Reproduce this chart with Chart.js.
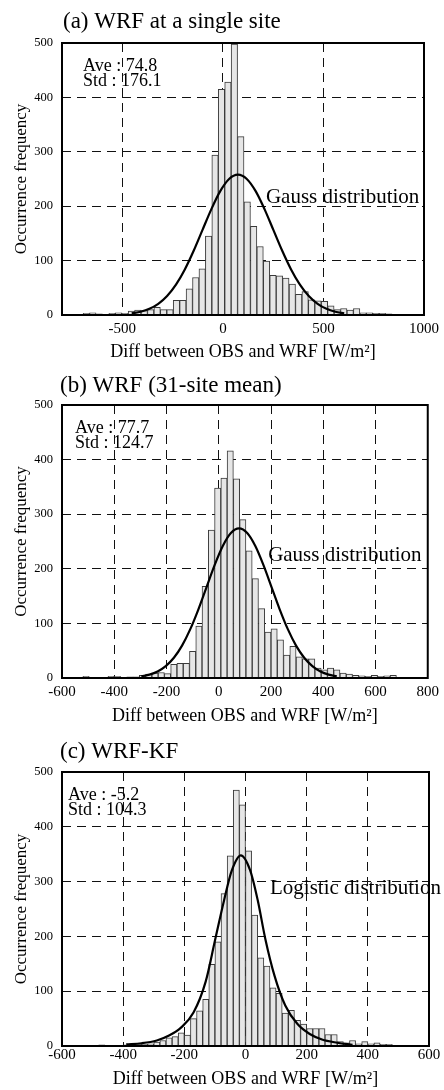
<!DOCTYPE html>
<html><head><meta charset="utf-8">
<script src="https://cdn.jsdelivr.net/npm/chart.js@4.4.1/dist/chart.umd.min.js"></script>
<style>
html,body{margin:0;padding:0;background:#fff;}
#wrap{position:relative;width:444px;height:1090px;overflow:hidden;background:#fff;}
canvas{position:absolute;left:0;}
</style></head><body>
<div id="wrap">
<canvas id="ca" width="444" height="365" style="top:0px"></canvas>
<canvas id="cb" width="444" height="365" style="top:365px"></canvas>
<canvas id="cc" width="444" height="360" style="top:730px"></canvas>
</div>
<script>
// ---------- DATA ----------
const yTicks = [0, 100, 200, 300, 400, 500];

// (a) WRF at a single site
const binsA = [-743,-711,-679,-647,-615,-583,-551,-519,-487,-455,-423,-391,-359,-327,-295,-263,-231,-199,-167,-135,-103,-71,-39,-7,25,57,89,121,153,185,217,249,281,313,345,377,409,441,473,505,537,569,601,633,665,697,729,761,793,825];
const countsA = [1,1,3,4,2,1,3,4,3,7,9,8,10,14,10,10,27,27,48,69,85,145,294,415,428,498,328,208,163,126,99,73,72,68,57,38,43,28,26,25,17,10,12,9,12,4,4,3,3,2];
const curveXA = [-453.5,-409.5,-365.4,-321.4,-277.4,-233.3,-189.3,-145.3,-101.3,-57.2,-13.2,30.8,74.8,118.8,162.9,206.9,250.9,295.0,339.0,383.0,427.0,471.1,515.1,559.1,603.1];
const curveYA = [2.9,5.9,11.3,20.5,34.9,55.8,83.8,118.1,156.5,194.7,227.7,250.1,258,250.1,227.7,194.7,156.5,118.1,83.8,55.8,34.9,20.5,11.3,5.9,2.9];
const xTicksA = [-500, 0, 500, 1000];

// (b) WRF (31-site mean)
const binsB = [-508,-484,-460,-436,-412,-388,-364,-340,-316,-292,-268,-244,-220,-196,-172,-148,-124,-100,-76,-52,-28,-4,20,44,68,92,116,140,164,188,212,236,260,284,308,332,356,380,404,428,452,476,500,524,548,572,596,620,644,668];
const countsB = [3,0,0,1,3,3,1,2,2,5,7,9,10,8,25,27,27,49,95,168,271,348,366,416,365,290,233,182,127,84,90,70,42,58,39,35,35,18,15,18,15,9,7,5,4,3,5,3,4,5];
const curveXB = [-296.4,-265.2,-234.1,-202.9,-171.7,-140.5,-109.4,-78.2,-47.0,-15.8,15.4,46.5,77.7,108.9,140.0,171.2,202.4,233.6,264.8,295.9,327.1,358.3,389.5,420.6,451.8];
const curveYB = [3.0,6.2,12.0,21.8,37.1,59.3,89.0,125.4,166.2,206.8,241.8,265.6,274,265.6,241.8,206.8,166.2,125.4,89.0,59.3,37.1,21.8,12.0,6.2,3.0];
const xTicksB = [-600, -400, -200, 0, 200, 400, 600, 800];

// (c) WRF-KF
const binsC = [-550,-530,-510,-490,-470,-450,-430,-410,-390,-370,-350,-330,-310,-290,-270,-250,-230,-210,-190,-170,-150,-130,-110,-90,-70,-50,-30,-10,10,30,50,70,90,110,130,150,170,190,210,230,250,270,290,310,330,350,370,390,410,430,450,470];
const countsC = [1,0,0,1,2,1,1,1,2,3,3,3,4,7,10,15,17,24,20,50,64,85,149,190,278,347,467,440,356,239,161,146,106,96,60,65,47,40,32,32,32,21,21,8,6,10,4,8,4,6,3,3];
const curveXC = [-390,-340,-290,-250,-210,-170,-130,-100,-70,-45,-15,15,40,65,95,130,170,210,250,300,350];
const curveYC = [3,5,10,19,34,61,118,192,266,320,348,321,266,195,128,74,40,22,12,6,2];
const xTicksC = [-600, -400, -200, 0, 200, 400, 600];

// ---------- RENDER ----------
const SERIF = "'Liberation Serif','Times New Roman',serif";
Chart.defaults.font.family = SERIF;
Chart.defaults.color = '#000';

const decor = {
  id: 'decor',
  afterDatasetsDraw(chart, args, o) {
    const {ctx, chartArea: a} = chart;
    ctx.save();
    ctx.setLineDash([]);
    ctx.strokeStyle = '#000';
    ctx.lineWidth = 2;
    ctx.strokeRect(a.left, a.top, a.right - a.left, a.bottom - a.top);
    ctx.restore();
  },
  afterDraw(chart, args, o) {
    const {ctx, chartArea: a, scales} = chart;
    ctx.save();
    ctx.fillStyle = '#000';
    ctx.textAlign = 'left';
    ctx.textBaseline = 'alphabetic';
    ctx.font = '23px ' + SERIF;
    ctx.fillText(o.title, a.left + o.titleDx, o.titleY);
    ctx.font = '18px ' + SERIF;
    ctx.fillText(o.ave, a.left + o.statsDx, a.top + 28);
    ctx.fillText(o.std, a.left + o.statsDx, a.top + 43);
    ctx.font = '21px ' + SERIF;
    ctx.fillText(o.label, scales.x.getPixelForValue(o.labelX), scales.y.getPixelForValue(o.labelY));
    ctx.restore();
  }
};

function panel(id, p) {
  const gridOpts = {color: '#111', lineWidth: 1, drawTicks: false, offset: false};
  const borderOpts = {display: false, dash: [9, 6]};
  new Chart(document.getElementById(id), {
    data: {
      datasets: [
        {
          type: 'line', order: 0,
          data: p.cx.map((v, i) => ({x: v, y: p.cy[i]})),
          borderColor: '#000', borderWidth: 2.2, pointRadius: 0,
          cubicInterpolationMode: 'monotone', fill: false
        },
        {
          type: 'bar', order: 1,
          data: p.bins.map((v, i) => ({x: v, y: p.counts[i]})),
          backgroundColor: '#e6e6e6', borderColor: '#3a3a3a', borderWidth: 1,
          barPercentage: 1, categoryPercentage: 1
        }
      ]
    },
    options: {
      responsive: false, animation: false, devicePixelRatio: 1,
      layout: {padding: {top: p.padTop, right: p.padRight, left: 0, bottom: 0}},
      plugins: {
        legend: {display: false}, tooltip: {enabled: false},
        decor: p.decor
      },
      scales: {
        x: {
          type: 'linear', min: p.xMin, max: p.xMax, offset: false,
          afterBuildTicks: s => { s.ticks = p.xTicks.map(v => ({value: v})); },
          afterFit: s => { s.height = p.H - p.plotBottom; },
          grid: gridOpts, border: borderOpts,
          ticks: {padding: p.xTickPad, font: {size: 15}, color: '#000', maxRotation: 0, autoSkip: false,
                  callback: v => String(v)},
          title: {display: true, text: 'Diff between OBS and WRF [W/m\u00B2]', font: {size: 18}, color: '#000',
                  padding: {top: 0, bottom: p.xTitlePad}}
        },
        y: {
          type: 'linear', min: 0, max: 500,
          afterBuildTicks: s => { s.ticks = yTicks.map(v => ({value: v})); },
          afterFit: s => { s.width = 62; },
          grid: gridOpts, border: borderOpts,
          ticks: {padding: 9, font: {size: 12.5}, color: '#000', callback: v => String(v)},
          title: {display: true, text: 'Occurrence frequency', font: {size: 17}, color: '#000',
                  padding: {top: 11, bottom: 0}}
        }
      }
    },
    plugins: [decor]
  });
}

panel('ca', {
  H: 365, padTop: 43, padRight: 15, plotBottom: 315, xMin: -800, xMax: 1000, xTicks: xTicksA,
  xTickPad: 5, xTitlePad: 2, bins: binsA, counts: countsA, cx: curveXA, cy: curveYA,
  decor: {title: '(a) WRF at a single site', titleDx: 1, titleY: 28, ave: 'Ave : 74.8', std: 'Std : 176.1',
          statsDx: 21, label: 'Gauss distribution', labelX: 214, labelY: 205}
});
panel('cb', {
  H: 365, padTop: 40, padRight: 16, plotBottom: 313, xMin: -600, xMax: 800, xTicks: xTicksB,
  xTickPad: 5, xTitlePad: 3, bins: binsB, counts: countsB, cx: curveXB, cy: curveYB,
  decor: {title: '(b) WRF (31-site mean)', titleDx: -2, titleY: 27, ave: 'Ave : 77.7', std: 'Std : 124.7',
          statsDx: 13, label: 'Gauss distribution', labelX: 189, labelY: 215}
});
panel('cc', {
  H: 360, padTop: 42, padRight: 15, plotBottom: 316, xMin: -600, xMax: 600, xTicks: xTicksC,
  xTickPad: 0, xTitlePad: 0, bins: binsC, counts: countsC, cx: curveXC, cy: curveYC,
  decor: {title: '(c) WRF-KF', titleDx: -2, titleY: 28, ave: 'Ave : -5.2', std: 'Std : 104.3',
          statsDx: 6, label: 'Logistic distribution', labelX: 80, labelY: 278}
});
</script>
</body></html>
